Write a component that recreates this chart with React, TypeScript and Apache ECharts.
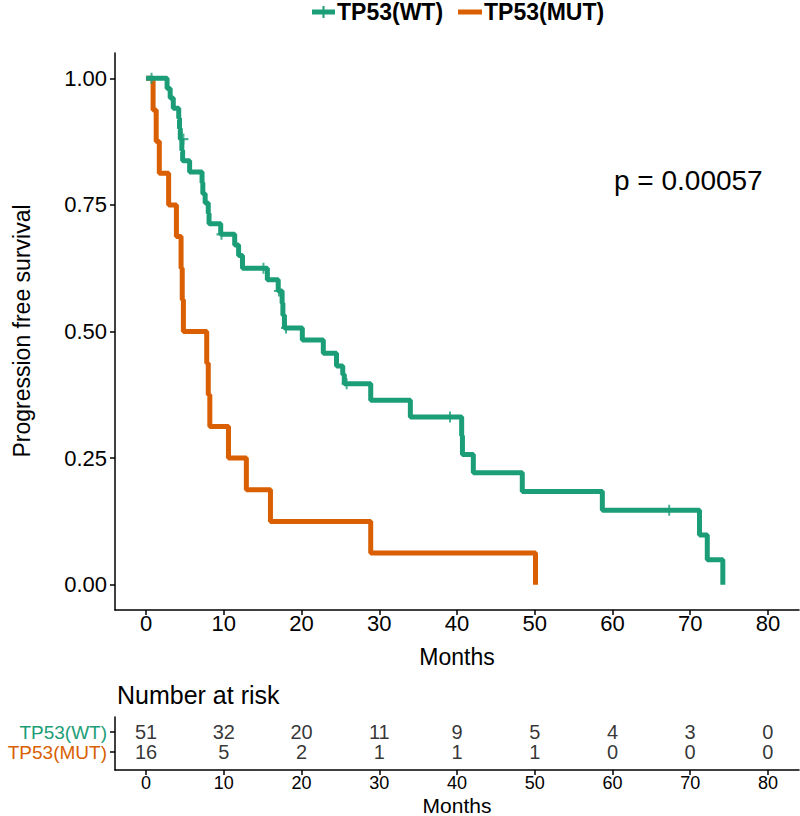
import React, { useEffect, useRef } from "react";
import * as echarts from "echarts";

const months = [0, 10, 20, 30, 40, 50, 60, 70, 80];
const survTicks = [0, 0.25, 0.5, 0.75, 1];
const groups = ["TP53(WT)", "TP53(MUT)"];
const colors = ["#1B9E77", "#D95F02"];

// Kaplan-Meier steps: [months, survival]
const wtCurve: [number, number][] = [
  [0, 1.0], [2.7, 0.98], [3.1, 0.961], [3.5, 0.941], [4.2, 0.921], [4.3, 0.901],
  [4.4, 0.88], [4.6, 0.858], [4.7, 0.837], [5.6, 0.815], [7.2, 0.794], [7.3, 0.772],
  [7.6, 0.754], [8.0, 0.733], [8.1, 0.713], [9.6, 0.692], [11.4, 0.671], [11.9, 0.65],
  [12.4, 0.625], [15.6, 0.602], [17.0, 0.58], [17.5, 0.556], [17.6, 0.532], [17.8, 0.507],
  [20.1, 0.483], [22.8, 0.457], [24.5, 0.432], [25.3, 0.415], [25.5, 0.397], [28.9, 0.364],
  [34.0, 0.331], [40.6, 0.294], [40.7, 0.257], [42.1, 0.221], [48.4, 0.184], [58.7, 0.147],
  [71.2, 0.098], [72.2, 0.049], [74.2, 0.0],
];
const wtCensor: [number, number][] = [
  [0.7, 1.0], [4.8, 0.88], [9.7, 0.692], [15.1, 0.625], [17.1, 0.58], [18.0, 0.507],
  [25.8, 0.397], [39.1, 0.331], [67.3, 0.147],
];
const mutCurve: [number, number][] = [
  [0, 1.0], [0.9, 0.9375], [1.3, 0.875], [1.7, 0.8125], [2.9, 0.75], [3.9, 0.6875],
  [4.5, 0.625], [4.65, 0.5625], [4.8, 0.5], [7.8, 0.4375], [8.0, 0.375], [8.2, 0.3125],
  [10.6, 0.25], [12.9, 0.1875], [16.0, 0.125], [28.9, 0.0625], [50.1, 0.0],
];

const wtAtRisk = [51, 32, 20, 11, 9, 5, 4, 3, 0];
const mutAtRisk = [16, 5, 2, 1, 1, 1, 0, 0, 0];
const pValueText = "p = 0.00057";

const FONT = "'Liberation Sans', Arial, Helvetica, sans-serif";
const PLUS = "path://M4,0 L6,0 L6,4 L10,4 L10,6 L6,6 L6,10 L4,10 L4,6 L0,6 L0,4 L4,4 Z";

export default function App() {
  const ref = useRef<HTMLDivElement>(null);
  useEffect(() => {
    if (!ref.current) return;
    const chart = echarts.init(ref.current, null, { renderer: "svg" });
    const axisLine = { show: true, onZero: false, lineStyle: { color: "#000", width: 1.5 } };
    const tick = (vals: number[]) => ({ show: true, customValues: vals, length: 5, lineStyle: { color: "#000", width: 1.5 } });
    const riskData: any[] = [];
    months.forEach((m, i) => {
      riskData.push([m, 2, wtAtRisk[i]]);
      riskData.push([m, 1, mutAtRisk[i]]);
    });
    chart.setOption({
      animation: false,
      backgroundColor: "#fff",
      textStyle: { fontFamily: FONT },
      grid: [
        { left: 115, top: 53, width: 684, height: 557 },
        { left: 115, top: 717, width: 684, height: 53 },
      ],
      xAxis: [
        {
          gridIndex: 0, type: "value", min: -4, max: 84,
          axisLine, axisTick: tick(months), splitLine: { show: false },
          axisLabel: { customValues: months, fontSize: 22, color: "#000", margin: 2, fontFamily: FONT },
        },
        {
          gridIndex: 1, type: "value", min: -4, max: 84,
          axisLine, axisTick: tick(months), splitLine: { show: false },
          axisLabel: { customValues: months, fontSize: 18, color: "#000", margin: 4, fontFamily: FONT },
        },
      ],
      yAxis: [
        {
          gridIndex: 0, type: "value", min: -0.05, max: 1.05,
          axisLine, axisTick: tick(survTicks), splitLine: { show: false },
          axisLabel: {
            customValues: survTicks, fontSize: 22, color: "#000", margin: 8, fontFamily: FONT,
            formatter: (v: number) => v.toFixed(2),
          },
        },
        {
          gridIndex: 1, type: "value", min: 0.1, max: 2.75,
          axisLine, axisTick: tick([1, 2]), splitLine: { show: false },
          axisLabel: {
            customValues: [1, 2], margin: 8, fontFamily: FONT,
            formatter: (v: number) => (v === 2 ? "{wt|" + groups[0] + "}" : "{mut|" + groups[1] + "}"),
            rich: {
              wt: { color: colors[0], fontSize: 19, lineHeight: 19, fontFamily: FONT },
              mut: { color: colors[1], fontSize: 19, lineHeight: 19, fontFamily: FONT },
            },
          },
        },
      ],
      series: [
        {
          name: groups[1], type: "line", step: "end", xAxisIndex: 0, yAxisIndex: 0,
          data: mutCurve, symbol: "none", lineStyle: { color: colors[1], width: 5 }, itemStyle: { color: colors[1] },
        },
        {
          name: groups[0], type: "line", step: "end", xAxisIndex: 0, yAxisIndex: 0,
          data: wtCurve, symbol: "none", lineStyle: { color: colors[0], width: 5 }, itemStyle: { color: colors[0] },
        },
        {
          name: groups[0] + " censored", type: "scatter", xAxisIndex: 0, yAxisIndex: 0,
          data: wtCensor, symbol: PLUS, symbolSize: [10, 11], itemStyle: { color: colors[0] }, z: 5,
        },
        {
          name: "risk", type: "scatter", xAxisIndex: 1, yAxisIndex: 1,
          data: riskData, symbol: "circle", symbolSize: 0.1, itemStyle: { color: "rgba(0,0,0,0)" },
          label: {
            show: true, position: "inside", color: "#000", fontSize: 20, lineHeight: 19, fontFamily: FONT,
            formatter: (p: any) => String(p.value[2]),
          },
        },
      ],
      graphic: [
        { type: "line", shape: { x1: 312, y1: 12, x2: 335, y2: 12 }, style: { stroke: colors[0], lineWidth: 5 } },
        { type: "line", shape: { x1: 323.5, y1: 6, x2: 323.5, y2: 18 }, style: { stroke: colors[0], lineWidth: 2 } },
        { type: "text", x: 337, y: 12, style: { text: groups[0], fill: "#000", font: "bold 23px " + FONT, textVerticalAlign: "middle" } },
        { type: "line", shape: { x1: 458, y1: 12, x2: 482, y2: 12 }, style: { stroke: colors[1], lineWidth: 5 } },
        { type: "text", x: 484, y: 12, style: { text: groups[1], fill: "#000", font: "bold 23px " + FONT, textVerticalAlign: "middle" } },
        { type: "text", x: 614, y: 180, style: { text: pValueText, fill: "#000", font: "28px " + FONT, textVerticalAlign: "middle" } },
        {
          type: "text", x: 22, y: 331, rotation: Math.PI / 2,
          style: { text: "Progression free survival", fill: "#000", font: "23px " + FONT, textAlign: "center", textVerticalAlign: "middle" },
        },
        { type: "text", x: 457, y: 657, style: { text: "Months", fill: "#000", font: "23px " + FONT, textAlign: "center", textVerticalAlign: "middle" } },
        { type: "text", x: 117, y: 695, style: { text: "Number at risk", fill: "#000", font: "25px " + FONT, textVerticalAlign: "middle" } },
        { type: "text", x: 457, y: 805, style: { text: "Months", fill: "#000", font: "21px " + FONT, textAlign: "center", textVerticalAlign: "middle" } },
      ],
    });
    return () => chart.dispose();
  }, []);
  return <div ref={ref} style={{ position: "absolute", left: 0, top: 0, width: 800, height: 816 }} />;
}
